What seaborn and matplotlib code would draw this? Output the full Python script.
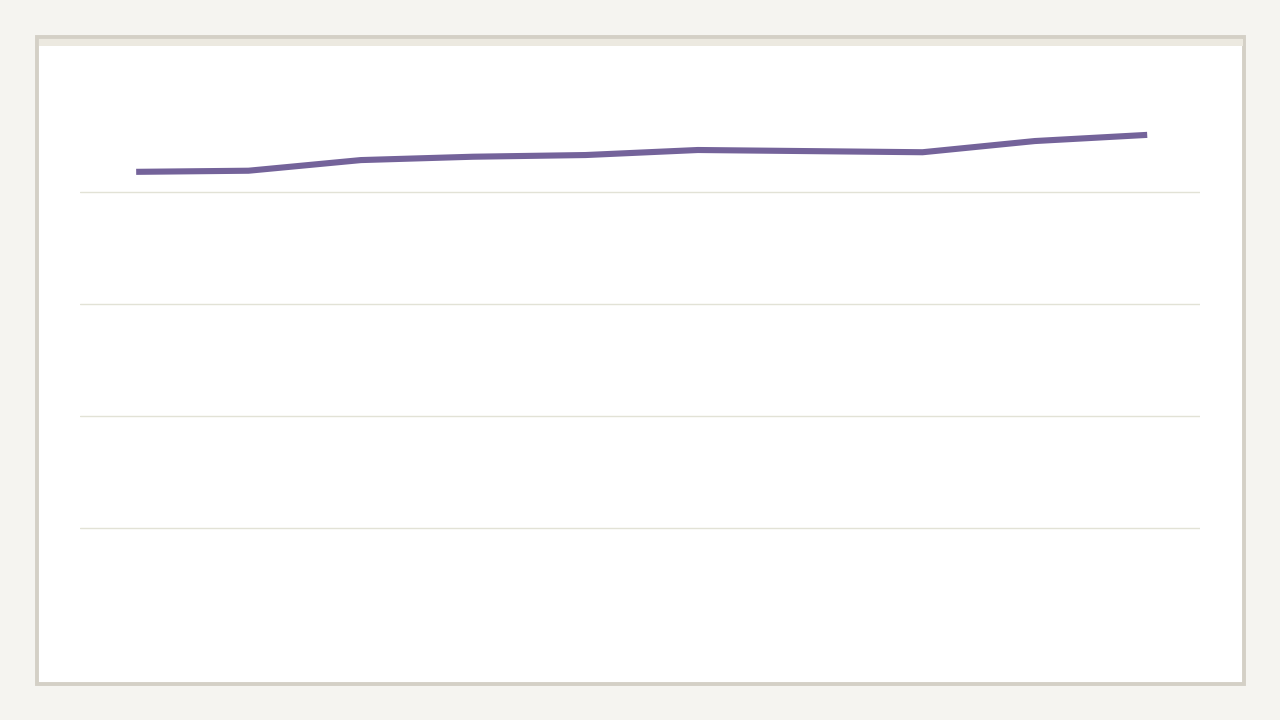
import numpy as np
import pandas as pd
import seaborn as sns
import matplotlib.pyplot as plt
from matplotlib.patches import Rectangle

# dữ liệu
points = list(range(10))
values = [83.6, 83.8, 85.7, 86.3, 86.6, 87.5, 87.3, 87.1, 89.1, 90.2]
grid_ticks = [20, 40, 60, 80]

data = pd.DataFrame({"x": points, "value": values})

sns.set_style("white")
fig = plt.figure(figsize=(12.8, 7.2), dpi=100)
fig.patch.set_facecolor("#f5f4f0")

# khung thẻ
fig.patches.append(Rectangle((37 / 1280, 1 - 684 / 720), 1207 / 1280, 647 / 720,
                             transform=fig.transFigure, facecolor="white",
                             edgecolor="#d4d0c6", linewidth=2.8, zorder=0))
fig.patches.append(Rectangle((38.5 / 1280, 1 - 46 / 720), 1204 / 1280, 7.5 / 720,
                             transform=fig.transFigure, facecolor="#ece9e0",
                             edgecolor="none", zorder=1))

ax = fig.add_axes([80 / 1280, 80 / 720, 1120 / 1280, 560 / 720])
ax.set_zorder(5)
ax.set_facecolor("none")
sns.lineplot(data=data, x="x", y="value", ax=ax, color="#74639a", linewidth=4.4,
             solid_capstyle="butt", solid_joinstyle="miter")

ax.set_xlim(-0.5, 9.47)
ax.set_ylim(0, 100)
ax.set_yticks(grid_ticks)
ax.yaxis.grid(True, color="#e2e2d6", linewidth=1)
ax.xaxis.grid(False)
ax.tick_params(left=False, bottom=False, labelleft=False, labelbottom=False)
ax.set_xlabel("")
ax.set_ylabel("")
for s in ax.spines.values():
    s.set_visible(False)

fig.savefig("out.png", dpi=100, facecolor=fig.get_facecolor())
